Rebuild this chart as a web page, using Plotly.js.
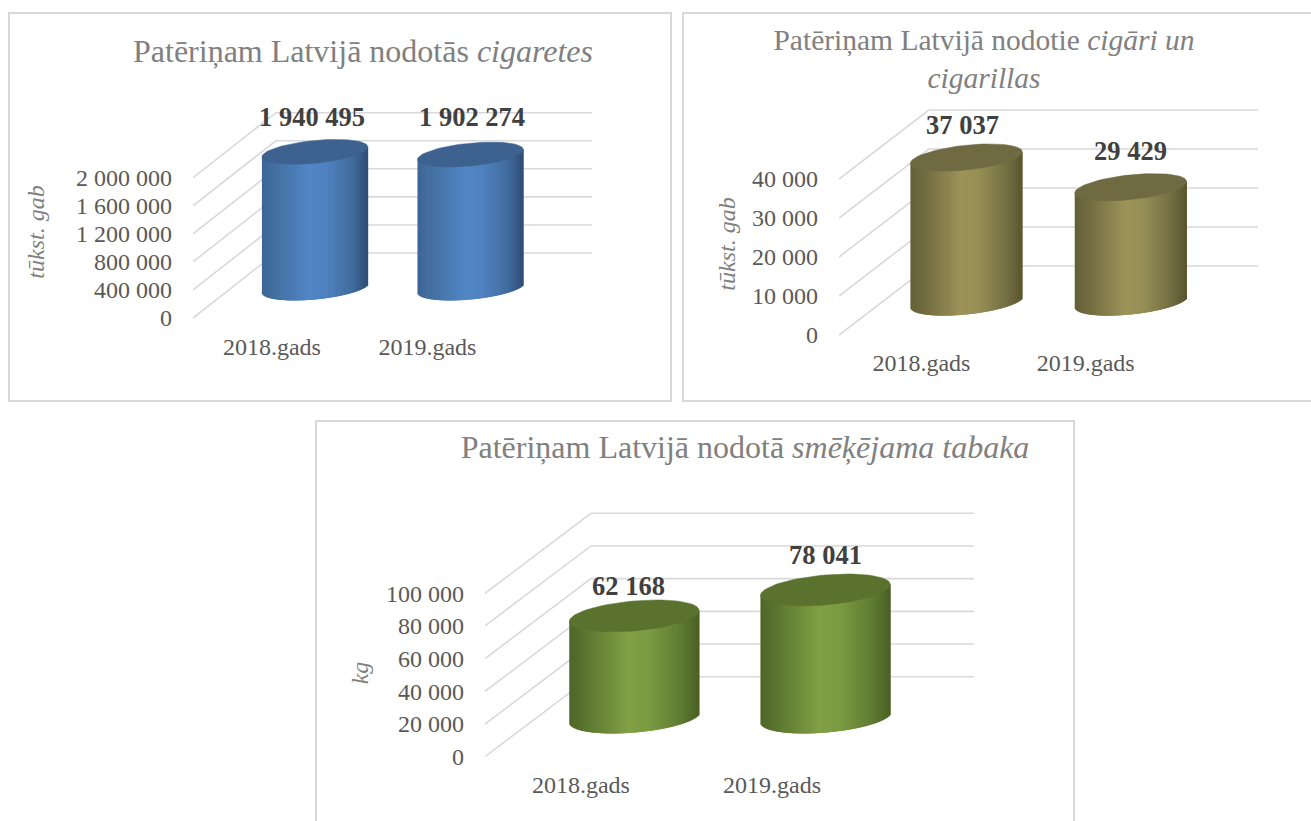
<!DOCTYPE html>
<html><head><meta charset="utf-8">
<script src="https://cdn.plot.ly/plotly-3.0.1.min.js"></script>
<style>
html,body{margin:0;padding:0;width:1311px;height:821px;overflow:hidden;background:#fff}
.p{position:absolute;box-sizing:border-box;border:2px solid #d9d9d9;background:#fff}
</style></head><body>
<div id="c1" class="p" style="left:8px;top:12px;width:664px;height:390px"></div>
<div id="c2" class="p" style="left:682px;top:12px;width:660px;height:390px"></div>
<div id="c3" class="p" style="left:315px;top:420px;width:760px;height:444px"></div>
<script>
var categories = ['2018.gads', '2019.gads'];
var cigaretes = [1940495, 1902274];
var cigari = [37037, 29429];
var tabaka = [62168, 78041];
var ticksCigaretes = [0, 400000, 800000, 1200000, 1600000, 2000000];
var ticksCigari = [0, 10000, 20000, 30000, 40000];
var ticksTabaka = [0, 20000, 40000, 60000, 80000, 100000];
var SERIF = '"Liberation Serif","Times New Roman",serif';

function fmt(v){ return String(v).replace(/\B(?=(\d{3})+$)/g,' '); }
function hex(c){ return [parseInt(c.slice(1,3),16),parseInt(c.slice(3,5),16),parseInt(c.slice(5,7),16)]; }
function shade(stops,u){
  var i=0; while(i<stops.length-2 && u>stops[i+1][0]) i++;
  var a=stops[i],b=stops[i+1],t=Math.max(0,Math.min(1,(u-a[0])/(b[0]-a[0])));
  var A=hex(a[1]),B=hex(b[1]);
  return 'rgb('+[0,1,2].map(function(k){return Math.round(A[k]+(B[k]-A[k])*t);}).join(',')+')';
}

function draw(cfg){
  var L=cfg.box[0],T=cfg.box[1],W=cfg.box[2],H=cfg.box[3];
  var ppu=(cfg.y0-cfg.yTick)/cfg.ticks[cfg.ticks.length-1];     // px per value unit
  var ppx=cfg.spacing;                                           // px per category
  var plotTop=cfg.plotTop, plotBot=2*cfg.yTitle-plotTop;
  var yRange=[(cfg.y0-plotBot)/ppu,(cfg.y0-plotTop)/ppu];
  var xAt=function(px){return (px-cfg.labelX)/ppx;};
  var xRange=[xAt(cfg.x0),xAt(cfg.xEnd)];
  var shapes=cfg.ticks.map(function(v){
    var back=v+cfg.depth[1]/ppu;
    return {type:'path',layer:'below',xref:'x',yref:'y',line:{color:'#d9d9d9',width:1.6},
      path:'M'+xRange[0]+','+v+' L'+xAt(cfg.x0+cfg.depth[0])+','+back+' L'+xRange[1]+','+back};
  });
  var traces=[];
  var annotations=[];
  cfg.values.forEach(function(val,i){
    var cx=cfg.cylX[i], a=cfg.a, tilt=cfg.tilt, b=cfg.b;
    var xs=[],bases=[],hs=[],cols=[];
    var n=Math.round(2*a)-1;
    var lift=cfg.y0-cfg.floorY;
    for(var k=0;k<n;k++){
      var px=-a+k+0.5, u=px/a, rim=Math.sqrt(1-u*u);
      var lowPx=lift+tilt*u-b*rim;                // height above front zero line, px
      var topPx=lift+val*ppu+tilt*u;
      xs.push(xAt(cx+px+0.7));
      bases.push(lowPx/ppu);
      hs.push((topPx-lowPx)/ppu);
      cols.push(shade(cfg.stops,(u+1)/2));
    }
    traces.push({type:'bar',x:xs,y:hs,base:bases,width:2.4/ppx,cliponaxis:false,opacity:1,
      marker:{color:cols,opacity:1,line:{width:0}},hoverinfo:'skip',showlegend:false});
    var ex=[],ey=[];
    for(var d=0;d<=72;d++){
      var t=d/72*2*Math.PI, c=Math.cos(t), s=Math.sin(t);
      ex.push(xAt(cx+a*c));
      ey.push((lift+val*ppu+tilt*c+b*s)/ppu);
    }
    traces.push({type:'scatter',mode:'lines',x:ex,y:ey,fill:'toself',fillcolor:cfg.cap,
      line:{color:cfg.cap,width:0.5},cliponaxis:false,hoverinfo:'skip',showlegend:false});
    annotations.push({xref:'x',yref:'y',x:xAt(cx+cfg.labelDx[i]),y:(lift+val*ppu)/ppu,yshift:cfg.labelDy[i],
      text:'<b>'+fmt(val)+'</b>',showarrow:false,xanchor:'center',yanchor:'middle',
      font:{family:SERIF,size:26.5,color:'#404040'}});
  });
  var layout={
    width:W,height:H,paper_bgcolor:'#fff',plot_bgcolor:'rgba(0,0,0,0)',showlegend:false,barmode:'overlay',
    margin:{l:cfg.x0-L,r:L+W-cfg.xEnd,t:plotTop-T,b:T+H-plotBot,autoexpand:false},
    title:{text:cfg.title,x:(cfg.titleX-L)/W,xanchor:'center',y:1-(cfg.titleY-T)/H,yanchor:'middle',
      font:{family:SERIF,size:cfg.titleSize,color:'#808080'}},
    xaxis:{range:xRange,tickmode:'array',tickvals:[0,1],ticktext:categories,showgrid:false,zeroline:false,showline:false,
      anchor:'free',position:(plotBot-cfg.y0)/(plotBot-plotTop),
      ticks:'',ticklabelstandoff:cfg.xStand,tickfont:{family:SERIF,size:24,color:'#595959'},fixedrange:true},
    yaxis:{range:yRange,tickmode:'array',tickvals:cfg.ticks,ticktext:cfg.ticks.map(fmt),showgrid:false,zeroline:false,showline:false,
      ticks:'',ticklabelstandoff:20,tickfont:{family:SERIF,size:24,color:'#595959'},fixedrange:true,
      title:{text:'<i>'+cfg.yLabel+'</i>',standoff:cfg.yStand,font:{family:SERIF,size:24,color:'#808080'}}},
    shapes:shapes,annotations:annotations
  };
  Plotly.newPlot(cfg.id,traces,layout,{staticPlot:true,displayModeBar:false});
}

var blue=[[0,'#3d6596'],[0.12,'#44709f'],[0.45,'#5186c7'],[0.6,'#4f82c0'],[0.85,'#426d9f'],[1,'#2e4c74']];
var olive=[[0,'#656039'],[0.12,'#716b40'],[0.45,'#9c9359'],[0.6,'#979056'],[0.85,'#757044'],[1,'#5a552f']];
var green=[[0,'#4e6628'],[0.12,'#5b7530'],[0.45,'#80a044'],[0.6,'#7d9c42'],[0.85,'#607d33'],[1,'#4a6024']];

draw({id:'c1',box:[10,14,660,386],values:cigaretes,ticks:ticksCigaretes,yLabel:'tūkst. gab',
  title:'Patēriņam Latvijā nodotās <i>cigaretes</i>',titleX:363,titleY:51,titleSize:32,
  x0:193,xEnd:592.5,y0:318,yTick:177.7,yTitle:232,plotTop:105,depth:[83,65],labelX:272,spacing:155.75,
  cylX:[315,470.75],floorY:288,a:53,tilt:5,b:11.4,cap:'#3d628f',stops:blue,labelDx:[-3,2],labelDy:[35,38],xStand:12,yStand:24});
draw({id:'c2',box:[684,14,656,386],values:cigari,ticks:ticksCigari,yLabel:'tūkst. gab',
  title:'Patēriņam Latvijā nodotie <i>cigāri un</i><br><i>cigarillas</i>',titleX:984,titleY:50,titleSize:29.5,
  x0:838.5,xEnd:1258,y0:335,yTick:179,yTitle:244,plotTop:100,depth:[90,69],labelX:921,spacing:164.5,
  cylX:[966,1130.5],floorY:302,a:56,tilt:5.7,b:12.4,cap:'#706a42',stops:olive,labelDx:[-4,0],labelDy:[33,36],xStand:11,yStand:9});
draw({id:'c3',box:[317,422,756,440],values:tabaka,ticks:ticksTabaka,yLabel:'kg',
  title:'Patēriņam Latvijā nodotā <i>smēķējama tabaka</i>',titleX:745,titleY:447,titleSize:32,
  x0:485,xEnd:974.3,y0:756.7,yTick:593.3,yTitle:673,plotTop:505,depth:[106,80],labelX:581,spacing:191.3,
  cylX:[634.3,825.6],floorY:717.5,a:65,tilt:5.5,b:15,cap:'#5b722f',stops:green,labelDx:[-6,0],labelDy:[30,35],xStand:11,yStand:10});
</script>
</body></html>
